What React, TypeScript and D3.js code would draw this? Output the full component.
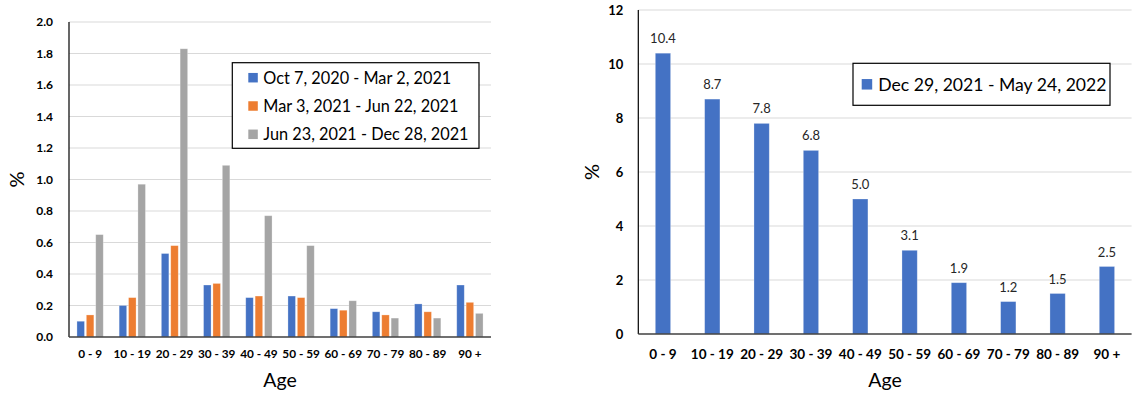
import { scaleBand, scaleLinear, format } from 'd3';

const AGES = ['0 - 9', '10 - 19', '20 - 29', '30 - 39', '40 - 49', '50 - 59', '60 - 69', '70 - 79', '80 - 89', '90 +'];

const LEFT_SERIES = ['Oct 7, 2020 - Mar 2, 2021', 'Mar 3, 2021 - Jun 22, 2021', 'Jun 23, 2021 - Dec 28, 2021'];
const LEFT_COLORS = ['#4472C4', '#ED7D31', '#A5A5A5'];
const WAVE1 = [0.10, 0.20, 0.53, 0.33, 0.25, 0.26, 0.18, 0.16, 0.21, 0.33];
const WAVE2 = [0.14, 0.25, 0.58, 0.34, 0.26, 0.25, 0.17, 0.14, 0.16, 0.22];
const WAVE3 = [0.65, 0.97, 1.83, 1.09, 0.77, 0.58, 0.23, 0.12, 0.12, 0.15];
const LEFT_TICKS = [0, 0.2, 0.4, 0.6, 0.8, 1.0, 1.2, 1.4, 1.6, 1.8, 2.0];

const RIGHT_SERIES = 'Dec 29, 2021 - May 24, 2022';
const OMICRON = [10.4, 8.7, 7.8, 6.8, 5.0, 3.1, 1.9, 1.2, 1.5, 2.5];
const RIGHT_TICKS = [0, 2, 4, 6, 8, 10, 12];

const FONT = 'Lato, "Open Sans", sans-serif';
const GRID = '#d9d9d9';

export default function App() {
  // left panel
  const L = { left: 69, right: 491, top: 22, bottom: 337 };
  const yL = scaleLinear().domain([0, 2]).range([L.bottom, L.top]);
  const xL = scaleBand<string>().domain(AGES).range([L.left, L.right]).paddingInner(0.377).paddingOuter(0.1885);
  const xLi = scaleBand<number>().domain([0, 1, 2]).range([0, xL.bandwidth()]).paddingInner(0.2);
  const leftData = [WAVE1, WAVE2, WAVE3];
  const f1 = format('.1f');

  // right panel
  const R = { left: 638.3, right: 1131.6, top: 10, bottom: 334 };
  const yR = scaleLinear().domain([0, 12]).range([R.bottom, R.top]);
  const xR = scaleBand<string>().domain(AGES).range([R.left, R.right]).paddingInner(0.69).paddingOuter(0.345);

  return (
    <svg
      width={1135}
      height={397}
      style={{ position: 'absolute', left: 0, top: 0, background: '#fff' }}
      fontFamily={FONT}
    >
      {/* ---------- left chart ---------- */}
      {LEFT_TICKS.map((t) => (
        <g key={t}>
          {t > 0 && <line x1={L.left} x2={L.right} y1={yL(t)} y2={yL(t)} stroke={GRID} strokeWidth={1} />}
          <text x={L.left - 16} y={yL(t)} dy="0.36em" textAnchor="end" fontSize={12} fontWeight={700} fill="#000">
            {f1(t)}
          </text>
        </g>
      ))}
      {AGES.map((a, i) => (
        <g key={a} transform={`translate(${xL(a)},0)`}>
          {leftData.map((s, k) => (
            <rect
              key={k}
              x={xLi(k)}
              y={yL(s[i])}
              width={xLi.bandwidth()}
              height={yL(0) - yL(s[i])}
              fill={LEFT_COLORS[k]}
              stroke="#fff"
              strokeOpacity={0.35}
              strokeWidth={0.75}
            />
          ))}
        </g>
      ))}
      <line x1={L.left} x2={L.left} y1={L.top} y2={L.bottom} stroke="#000" strokeWidth={1.2} />
      <line x1={L.left} x2={L.right} y1={L.bottom} y2={L.bottom} stroke="#404040" strokeWidth={1.5} />
      {AGES.map((a) => (
        <text key={a} x={xL(a)! + xL.bandwidth() / 2} y={354} dy="0.36em" textAnchor="middle" fontSize={11.8} fontWeight={700} fill="#000">
          {a}
        </text>
      ))}
      <text x={(L.left + L.right) / 2} y={380} dy="0.36em" textAnchor="middle" fontSize={19.5} fill="#000">
        Age
      </text>
      <text transform={`translate(17,${(L.top + L.bottom) / 2}) rotate(-90)`} dy="0.36em" textAnchor="middle" fontSize={20} fill="#000">
        %
      </text>
      <g>
        <rect x={232.3} y={62.7} width={246.7} height={85.6} fill="#fff" stroke="#000" strokeWidth={1.2} />
        {LEFT_SERIES.map((s, k) => (
          <g key={s} transform={`translate(248.3,${77.7 + k * 28.3})`}>
            <rect x={0} y={-4.75} width={9.5} height={9.5} fill={LEFT_COLORS[k]} />
            <text x={15} y={0} dy="0.36em" fontSize={16.3} fill="#000">
              {s}
            </text>
          </g>
        ))}
      </g>

      {/* ---------- right chart ---------- */}
      {RIGHT_TICKS.map((t) => (
        <g key={t}>
          {t > 0 && <line x1={R.left} x2={R.right} y1={yR(t)} y2={yR(t)} stroke={GRID} strokeWidth={1} />}
          <text x={R.left - 15} y={yR(t)} dy="0.36em" textAnchor="end" fontSize={13} fontWeight={700} fill="#000">
            {t}
          </text>
        </g>
      ))}
      {AGES.map((a, i) => (
        <g key={a}>
          <rect
            x={xR(a)}
            y={yR(OMICRON[i])}
            width={xR.bandwidth()}
            height={yR(0) - yR(OMICRON[i])}
            fill="#4472C4"
            stroke="#fff"
            strokeOpacity={0.35}
            strokeWidth={0.75}
          />
          <text
            x={xR(a)! + xR.bandwidth() / 2}
            y={yR(OMICRON[i]) - 10}
            textAnchor="middle"
            fontSize={13}
            fill="#262626"
          >
            {f1(OMICRON[i])}
          </text>
        </g>
      ))}
      <line x1={R.left} x2={R.left} y1={R.top} y2={R.bottom} stroke="#000" strokeWidth={1.2} />
      <line x1={R.left} x2={R.right} y1={R.bottom} y2={R.bottom} stroke="#404040" strokeWidth={1.5} />
      {AGES.map((a) => (
        <text key={a} x={xR(a)! + xR.bandwidth() / 2} y={353.7} dy="0.36em" textAnchor="middle" fontSize={13.5} fontWeight={700} fill="#000">
          {a}
        </text>
      ))}
      <text x={(R.left + R.right) / 2} y={380} dy="0.36em" textAnchor="middle" fontSize={19.5} fill="#000">
        Age
      </text>
      <text transform={`translate(591.7,${(R.top + R.bottom) / 2}) rotate(-90)`} dy="0.36em" textAnchor="middle" fontSize={20} fill="#000">
        %
      </text>
      <g>
        <rect x={853} y={63.3} width={257} height={42} fill="#fff" stroke="#000" strokeWidth={1.2} />
        <g transform="translate(861.7,84.3)">
          <rect x={0} y={-5.25} width={10.5} height={10.5} fill="#4472C4" />
          <text x={16.6} y={0} dy="0.36em" fontSize={17.6} fill="#000">
            {RIGHT_SERIES}
          </text>
        </g>
      </g>
    </svg>
  );
}
